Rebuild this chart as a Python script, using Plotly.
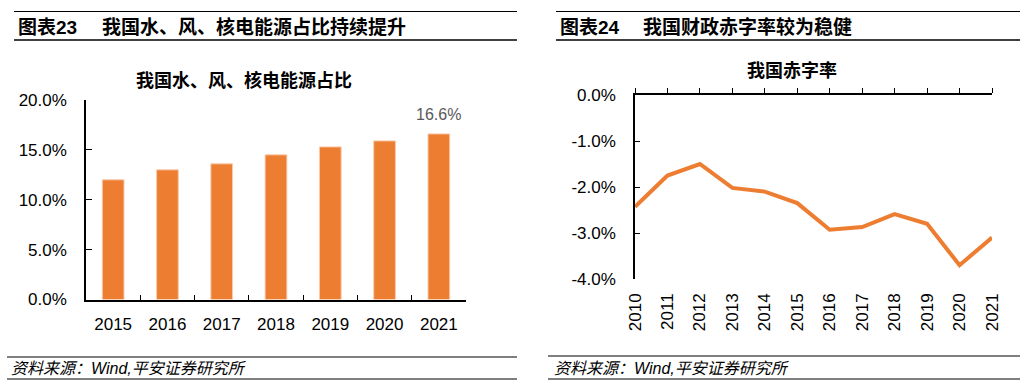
import plotly.graph_objects as go

# ---------------- data ----------------
bar_years = ["2015", "2016", "2017", "2018", "2019", "2020", "2021"]
bar_values = [12.0, 13.0, 13.6, 14.5, 15.3, 15.9, 16.6]
bar_yticks = [0, 5, 10, 15, 20]
bar_yticklabels = ["0.0%", "5.0%", "10.0%", "15.0%", "20.0%"]

line_years = ["2010", "2011", "2012", "2013", "2014", "2015",
              "2016", "2017", "2018", "2019", "2020", "2021"]
line_values = [-2.43, -1.75, -1.5, -2.02, -2.1, -2.35,
               -2.93, -2.87, -2.59, -2.8, -3.7, -3.1]
line_yticks = [0, -1, -2, -3, -4]
line_yticklabels = ["0.0%", "-1.0%", "-2.0%", "-3.0%", "-4.0%"]

header_left_no = "图表23"
header_left = "我国水、风、核电能源占比持续提升"
header_right_no = "图表24"
header_right = "我国财政赤字率较为稳健"
title_left = "我国水、风、核电能源占比"
title_right = "我国赤字率"
source_text = "资料来源：Wind,平安证券研究所"

# ---------------- figure ----------------
W, H = 1022, 389
FONT = "Liberation Sans, Arial, Noto Sans CJK SC"
ORANGE = "#ED7D31"


def px(x):
    return x / W


def py(y):
    return 1 - y / H


fig = go.Figure()

fig.add_trace(go.Bar(
    x=bar_years, y=bar_values, xaxis="x", yaxis="y",
    width=0.4,
    marker=dict(color=ORANGE, line=dict(color="#F8CBAD", width=1)),
    hoverinfo="x+y", showlegend=False,
))

fig.add_trace(go.Scatter(
    x=line_years, y=line_values, xaxis="x2", yaxis="y2",
    mode="lines", line=dict(color=ORANGE, width=4),
    showlegend=False,
))
# invisible copy so the top (zero) axis has categories
fig.add_trace(go.Scatter(
    x=line_years, y=line_values, xaxis="x3", yaxis="y2",
    mode="lines", line=dict(color=ORANGE, width=0), opacity=0,
    hoverinfo="skip", showlegend=False,
))

axis_common = dict(showgrid=False, zeroline=False, linecolor="black",
                   automargin=False,
                   tickcolor="black", tickfont=dict(family=FONT, size=17, color="black"))

fig.update_layout(
    template="none",
    width=W, height=H,
    margin=dict(l=0, r=0, t=0, b=0, pad=0),
    paper_bgcolor="white", plot_bgcolor="white",
    font=dict(family=FONT, color="black"),
    xaxis=dict(domain=[px(86), px(466)], anchor="y", type="category",
               range=[-0.5, 6.5], showline=True, linewidth=1.5,
               ticks="inside", tickson="boundaries", ticklen=5,
               ticklabelstandoff=8, **axis_common),
    yaxis=dict(domain=[py(299.5), py(100)], anchor="x", range=[0, 20],
               tickvals=bar_yticks, ticktext=bar_yticklabels,
               showline=True, linewidth=1.5, ticks="inside", ticklen=6,
               ticklabelstandoff=14, **axis_common),
    xaxis2=dict(domain=[px(635), px(992)], anchor="y2", type="category",
                range=[0, 11], showline=False, ticks="", tickangle=-90,
                ticklabelstandoff=10, **axis_common),
    xaxis3=dict(domain=[px(635), px(992)], anchor="y2", overlaying="x2",
                side="top", type="category", range=[0, 11],
                showline=True, linewidth=1.5, ticks="outside", ticklen=5,
                showticklabels=False, **axis_common),
    yaxis2=dict(domain=[py(279), py(95)], anchor="x2", range=[-4, 0],
                tickvals=line_yticks, ticktext=line_yticklabels,
                showline=True, linewidth=1.5, ticks="inside", ticklen=5,
                ticklabelstandoff=14, **axis_common),
)

# data label on last bar (category index position)
fig.add_annotation(
    x=len(bar_years) - 1, y=bar_values[-1], xref="x", yref="y",
    text=f"{bar_values[-1]:.1f}%", showarrow=False,
    xanchor="center", yanchor="bottom", yshift=9,
    font=dict(family=FONT, size=16, color="#595959"),
)


def ann(x, y, text, size, xanchor="left", **fontkw):
    f = dict(family=FONT, color="black", size=size)
    f.update(fontkw)
    fig.add_annotation(x=px(x), y=py(y), xref="paper", yref="paper",
                       text=text, showarrow=False, xanchor=xanchor,
                       yanchor="middle", font=f)


# headers
ann(16, 27, header_left_no, 19, weight="bold")
ann(100, 27, header_left, 19, weight="bold")
ann(558, 27, header_right_no, 19, weight="bold")
ann(641, 27, header_right, 19, weight="bold")

# chart titles
ann(244, 81, title_left, 18, xanchor="center", weight="bold")
ann(792, 70, title_right, 18, xanchor="center", weight="bold")

# sources
ann(9, 368, source_text, 16, style="italic")
ann(552, 368, source_text, 16, style="italic")

# rules
rules = [
    (14, 517, 11.5, 1.2), (14, 517, 40, 1.5),
    (556, 1020, 11.5, 1.2), (556, 1020, 40, 1.5),
    (7, 517, 357, 1.2), (7, 517, 379, 1.2),
    (548, 1020, 356, 1.2), (548, 1020, 379, 1.2),
]
for x0, x1, y, w in rules:
    fig.add_shape(type="line", xref="paper", yref="paper",
                  x0=px(x0), x1=px(x1), y0=py(y), y1=py(y),
                  line=dict(color="black", width=w))

fig.write_html(
    "out.html",
    config={"displayModeBar": False},
    post_script="document.body.style.margin='0';document.body.style.overflow='hidden';",
)
